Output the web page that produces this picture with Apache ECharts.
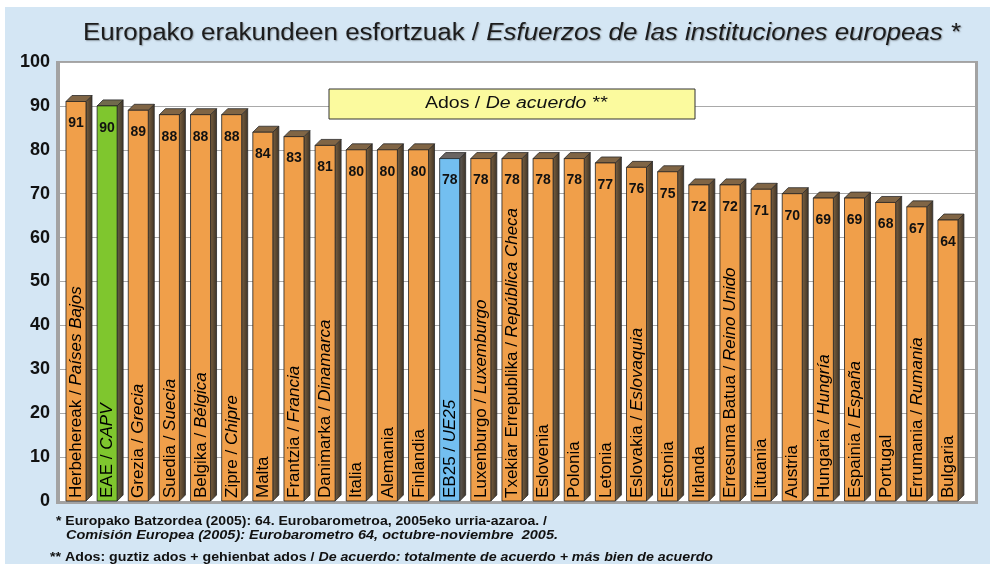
<!DOCTYPE html>
<html><head><meta charset="utf-8">
<script src="https://cdn.jsdelivr.net/npm/echarts@6/dist/echarts.min.js"></script>
<style>html,body{margin:0;padding:0;background:#fff}#c{width:990px;height:564px}</style>
</head><body><div id="c"></div>
<script>
var namesEu = ['Herbehereak','EAE','Grezia','Suedia','Belgika','Zipre','Malta','Frantzia','Danimarka','Italia','Alemania','Finlandia','EB25','Luxenburgo','Txekiar Errepublika','Eslovenia','Polonia','Letonia','Eslovakia','Estonia','Irlanda','Erresuma Batua','Lituania','Austria','Hungaria','Espainia','Portugal','Errumania','Bulgaria'];
var namesEs = ['Países Bajos','CAPV','Grecia','Suecia','Bélgica','Chipre','','Francia','Dinamarca','','','','UE25','Luxemburgo','República Checa','','','','Eslovaquia','','','Reino Unido','','','Hungría','España','','Rumania',''];
var values = [91,90,89,88,88,88,84,83,81,80,80,80,78,78,78,78,78,77,76,75,72,72,71,70,69,69,68,67,64];
var yTicks = [0,10,20,30,40,50,60,70,80,90,100];
var highlightGreen = ['EAE'];
var highlightBlue = ['EB25'];

var FONT = "'Liberation Sans', Arial, sans-serif";
var mctx = document.createElement('canvas').getContext('2d');
function textW(parts){
  var w = 0;
  parts.forEach(function(p){ mctx.font = p[0] + ' ' + FONT; w += mctx.measureText(p[1]).width; });
  return w;
}

var chart = echarts.init(document.getElementById('c'), null, {renderer:'canvas'});

function faceColors(name){
  if (highlightGreen.indexOf(name) >= 0) return {front:'#7fc62e', side:'#6a6444', top:'#706a4c'};
  if (highlightBlue.indexOf(name) >= 0) return {front:'#73bff0', side:'#625e5a', top:'#6a6562'};
  return {front:'#f09f4a', side:'#7d6240', top:'#806545'};
}

function renderItem(params, api){
  var i = api.value(0), v = api.value(1);
  var top = api.coord([i, v]);
  var base = api.coord([i, 0]);
  var w = 20, d = 6;
  var cx = top[0];
  var x0 = cx - w/2, x1 = cx + w/2;
  var c = faceColors(namesEu[i]);
  var label = namesEs[i] ? '{n|' + namesEu[i] + ' / }{it|' + namesEs[i] + '}' : '{n|' + namesEu[i] + '}';
  return {
    type:'group',
    children:[
      {type:'polygon', shape:{points:[[x1,top[1]],[x1+d,top[1]-d],[x1+d,base[1]-d],[x1,base[1]]]},
        style:{fill:new echarts.graphic.LinearGradient(0,0,1,0,[{offset:0,color:c.side},{offset:1,color:'#3e3326'}]), stroke:'#2a2a2a', lineWidth:0.8}},
      {type:'polygon', shape:{points:[[x0,top[1]],[x0+d,top[1]-d],[x1+d,top[1]-d],[x1,top[1]]]},
        style:{fill:c.top, stroke:'#2a2a2a', lineWidth:0.8}},
      {type:'rect', shape:{x:x0, y:top[1], width:w, height:base[1]-top[1]},
        style:{fill:c.front, stroke:'#222', lineWidth:0.8}},
      {type:'text', x:cx, y:top[1]+22, style:{text:String(v), font:'bold 14px ' + FONT, fill:'#111', align:'center', verticalAlign:'middle'}},
      {type:'text', x:cx+0.5, y:base[1]-3, rotation:Math.PI/2,
        style:{text:label, align:'left', verticalAlign:'middle', fill:'#000',
          rich:{n:{fontFamily:FONT, fontSize:17, fill:'#000'},
                it:{fontFamily:FONT, fontSize:17, fontStyle:'italic', fill:'#000'}}}}
    ]
  };
}

var data = values.map(function(v,i){ return [i, v]; });

var titleA = 'Europako erakundeen esfortzuak / ', titleB = 'Esfuerzos de las instituciones europeas *';
var titleScale = 877 / textW([['23px', titleA], ['italic 23px', titleB]]);
var legA = 'Ados / ', legB = 'De acuerdo **';
var legScale = 182 / textW([['16px', legA], ['italic 16px', legB]]);
var fn1 = '* Europako Batzordea (2005): 64. Eurobarometroa, 2005eko urria-azaroa. /';
var fn2 = 'Comisión Europea (2005): Eurobarometro 64, octubre-noviembre  2005.';
var fn3a = '** Ados: guztiz ados + gehienbat ados / ', fn3b = 'De acuerdo: totalmente de acuerdo + más bien de acuerdo';
var fn1Scale = 491 / textW([['bold 13px', fn1]]);
var fn2Scale = 492 / textW([['italic bold 13px', fn2]]);
var fn3Scale = 663 / textW([['bold 13px', fn3a], ['italic bold 13px', fn3b]]);

var shadow = {textShadowColor:'rgba(0,0,0,0.35)', textShadowBlur:1.5, textShadowOffsetX:1, textShadowOffsetY:1};

var option = {
  backgroundColor:'#ffffff',
  animation:false,
  grid:[
    {left:60, right:14, top:62, bottom:63, show:true, backgroundColor:'#ffffff', borderWidth:0},
    {left:60.4, right:26.5, top:62, bottom:63}
  ],
  xAxis:[
    {type:'value', gridIndex:0, min:0, max:1, show:false},
    {type:'category', gridIndex:1, data:namesEu, show:false, boundaryGap:true}
  ],
  yAxis:[
    {type:'value', gridIndex:0, min:0, max:100, interval:10,
      axisLine:{show:false}, axisTick:{show:false},
      splitLine:{lineStyle:{color:'#a9a9a9', width:1}},
      axisLabel:{margin:10, fontFamily:FONT, fontSize:18, fontWeight:'bold', color:'#111',
        formatter:function(v){ return yTicks.indexOf(v) >= 0 ? String(v) : ''; }}},
    {type:'value', gridIndex:1, min:0, max:100, interval:10, show:false}
  ],
  series:[
    {type:'custom', xAxisIndex:1, yAxisIndex:1, renderItem:renderItem, data:data, encode:{x:0, y:1}, clip:false, z:5}
  ],
  graphic:[
    {type:'rect', z:-10, silent:true, shape:{x:5, y:7, width:985, height:557}, style:{fill:'#d4e6f4'}},
    {type:'rect', z:1, silent:true, shape:{x:56, y:61, width:4, height:443}, style:{fill:'#a3a3a3'}},
    {type:'rect', z:1, silent:true, shape:{x:56, y:61, width:922, height:1}, style:{fill:'#a3a3a3'}},
    {type:'rect', z:1, silent:true, shape:{x:975, y:61, width:3, height:443}, style:{fill:'#a3a3a3'}},
    {type:'rect', z:1, silent:true, shape:{x:56, y:501, width:922, height:3}, style:{fill:'#a3a3a3'}},
    {type:'text', z:10, x:83, y:34, scaleX:titleScale, style:{text:'{a|' + titleA + '}{b|' + titleB + '}', verticalAlign:'middle',
      rich:{a:Object.assign({fontFamily:FONT, fontSize:23, fill:'#1c1c1c'}, shadow), b:Object.assign({fontFamily:FONT, fontSize:23, fontStyle:'italic', fill:'#1c1c1c'}, shadow)}}},
    {type:'rect', z:100, shape:{x:329, y:89, width:366, height:30}, style:{fill:'#fbfa9e', stroke:'#333', lineWidth:1}},
    {type:'text', z:101, x:425, y:104, scaleX:legScale, style:{text:'{n|' + legA + '}{it|' + legB + '}', verticalAlign:'middle',
      rich:{n:{fontFamily:FONT, fontSize:16, fill:'#111'}, it:{fontFamily:FONT, fontSize:16, fontStyle:'italic', fill:'#111'}}}},
    {type:'text', z:10, x:56, y:521, scaleX:fn1Scale, style:{text:fn1, font:'bold 13px ' + FONT, fill:'#111', verticalAlign:'middle'}},
    {type:'text', z:10, x:66, y:535, scaleX:fn2Scale, style:{text:fn2, font:'italic bold 13px ' + FONT, fill:'#111', verticalAlign:'middle'}},
    {type:'text', z:10, x:50, y:557, scaleX:fn3Scale, style:{text:'{n|' + fn3a + '}{it|' + fn3b + '}', verticalAlign:'middle',
      rich:{n:{fontFamily:FONT, fontSize:13, fontWeight:'bold', fill:'#111'}, it:{fontFamily:FONT, fontSize:13, fontWeight:'bold', fontStyle:'italic', fill:'#111'}}}}
  ]
};
chart.setOption(option);
</script></body></html>
